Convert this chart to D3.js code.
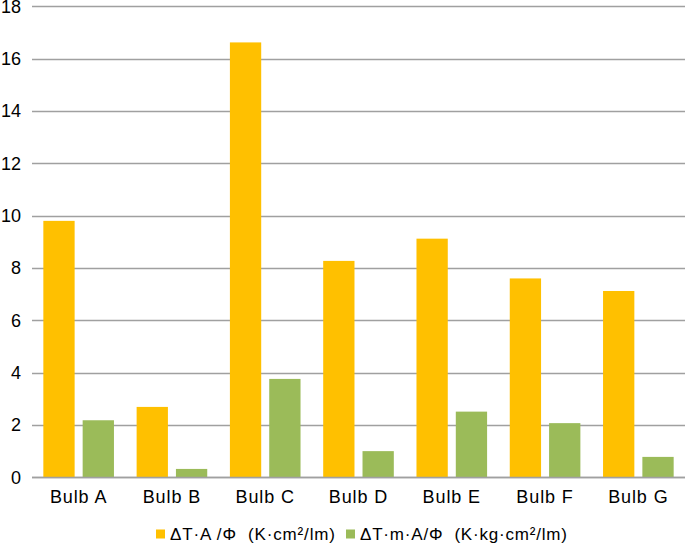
<!DOCTYPE html>
<html><head><meta charset="utf-8">
<script src="https://cdn.jsdelivr.net/npm/d3@7"></script>
<style>body{margin:0;background:#fff}svg{display:block}text{font-family:"Liberation Sans",Arial,sans-serif;fill:#000;white-space:pre}</style>
</head><body>
<svg id="c" width="685" height="544"></svg>
<script>
const categories = ["Bulb A","Bulb B","Bulb C","Bulb D","Bulb E","Bulb F","Bulb G"];
const seriesNames = ["\u0394T\u00B7A /\u03A6  (K\u00B7cm\u00B2/lm)", "\u0394T\u00B7m\u00B7A/\u03A6  (K\u00B7kg\u00B7cm\u00B2/lm)"];
const areaValues = [9.8, 2.69, 16.62, 8.27, 9.12, 7.6, 7.12];
const massValues = [2.18, 0.32, 3.76, 1.0, 2.51, 2.07, 0.78];
const yTicks = [0,2,4,6,8,10,12,14,16,18];
const colors = ["#FFC000", "#9BBB59"];

const svg = d3.select("#c");
const mLeft = 32, mRight = 685, mTop = 6.3, mBottom = 477.3;
const y = d3.scaleLinear().domain([0,18]).range([mBottom, mTop]);
const x0 = d3.scaleBand().domain(categories).range([mLeft, mRight]).paddingInner(0.243).paddingOuter(0.1215);
const x1 = d3.scaleBand().domain([0,1]).range([0, x0.bandwidth()]).paddingInner(0.204);

// gridlines
svg.append("g").selectAll("line").data(yTicks).join("line")
  .attr("x1", mLeft).attr("x2", mRight)
  .attr("y1", d => Math.round(y(d)) + 0.5).attr("y2", d => Math.round(y(d)) + 0.5)
  .attr("stroke", "#a0a0a0").attr("stroke-width", 1.3);

// y labels
svg.append("g").selectAll("text").data(yTicks).join("text")
  .attr("x", 21).attr("y", d => y(d)).attr("dy", "0.36em")
  .attr("text-anchor", "end").attr("font-size", 18).text(d => d);

const data = categories.map((c,i) => ({c, v:[areaValues[i], massValues[i]]}));
const g = svg.append("g").selectAll("g").data(data).join("g")
  .attr("transform", d => `translate(${x0(d.c)},0)`);
g.selectAll("rect").data(d => d.v.map((v,k) => ({v,k}))).join("rect")
  .attr("x", d => x1(d.k)).attr("width", x1.bandwidth())
  .attr("y", d => y(d.v)).attr("height", d => y(0) - y(d.v))
  .attr("fill", d => colors[d.k]);

// baseline
svg.append("line").attr("x1", mLeft).attr("x2", mRight)
  .attr("y1", Math.round(y(0))+0.5).attr("y2", Math.round(y(0))+0.5)
  .attr("stroke", "#a0a0a0").attr("stroke-width", 1.3);

// x labels
svg.append("g").selectAll("text").data(categories).join("text")
  .attr("x", d => x0(d) + x0.bandwidth()/2).attr("y", 503.3)
  .attr("text-anchor", "middle").attr("font-size", 18).attr("letter-spacing", 0.9).text(d => d);

// legend
const leg = svg.append("g");
const legX = [156, 346];
const legW = [165, 207];
seriesNames.forEach((n,i) => {
  leg.append("rect").attr("x", legX[i]).attr("y", 529.5).attr("width", 9).attr("height", 9).attr("fill", colors[i]);
  leg.append("text").attr("x", legX[i] + 14).attr("y", 540).attr("font-size", 17)
    .attr("textLength", legW[i]).attr("lengthAdjust", "spacing").text(n);
});
</script>
</body></html>
